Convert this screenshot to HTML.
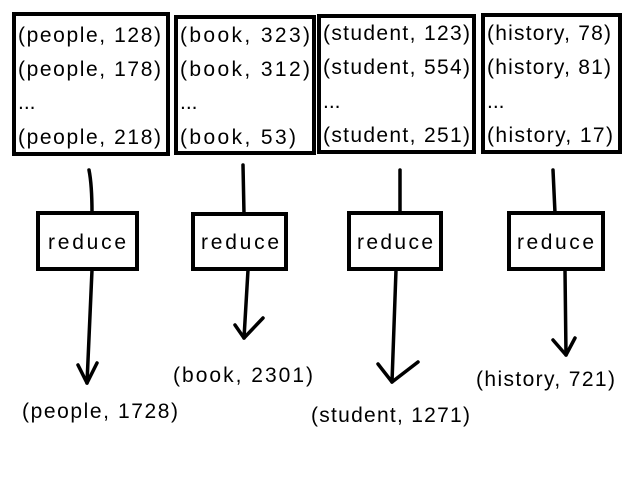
<!DOCTYPE html>
<html><head><meta charset="utf-8"><style>
html,body{margin:0;padding:0;background:#fff;}
svg{display:block}
text{font-family:"Liberation Sans","DejaVu Sans",sans-serif;font-size:21px;fill:#000}
</style></head><body>
<svg width="640" height="480" viewBox="0 0 640 480" xmlns="http://www.w3.org/2000/svg">
<g fill="none" stroke="#000" stroke-width="4">
<rect x="14" y="14" width="154" height="140"/>
<rect x="176" y="17" width="138" height="136"/>
<rect x="319" y="16" width="155" height="136"/>
<rect x="483" y="15" width="137" height="137"/>
<rect x="38" y="213" width="99" height="56"/>
<rect x="193" y="214" width="93" height="55"/>
<rect x="349" y="213" width="92" height="56"/>
<rect x="509" y="213" width="94" height="56"/>
</g>
<g fill="none" stroke="#000" stroke-width="3.5" stroke-linecap="round" stroke-linejoin="round">
<path d="M89 170 Q92 185 92 213"/>
<path d="M92 270 L87 383"/>
<path d="M78 365 L87 383 L97 363"/>
<path d="M243 165 L244 214"/>
<path d="M248 270 L244 338"/>
<path d="M235 325 L244 338 L263 318"/>
<path d="M400 170 L400 213"/>
<path d="M396 270 L392 382"/>
<path d="M378 364 L392 382 L418 362"/>
<path d="M553 170 L555 213"/>
<path d="M565 270 L566 355"/>
<path d="M553 340 L566 355 L575 338"/>
</g>
<g lengthAdjust="spacing">
<text x="18" y="42" textLength="143">(people, 128)</text>
<text x="18" y="76" textLength="143">(people, 178)</text>
<text x="18" y="109">...</text>
<text x="18" y="144" textLength="143">(people, 218)</text>
<text x="180" y="42" textLength="130">(book, 323)</text>
<text x="180" y="76" textLength="130">(book, 312)</text>
<text x="180" y="109">...</text>
<text x="180" y="144" textLength="116">(book, 53)</text>
<text x="323" y="40" textLength="147">(student, 123)</text>
<text x="323" y="74" textLength="147">(student, 554)</text>
<text x="323" y="108">...</text>
<text x="323" y="142" textLength="147">(student, 251)</text>
<text x="487" y="40" textLength="124">(history, 78)</text>
<text x="487" y="74" textLength="124">(history, 81)</text>
<text x="487" y="108">...</text>
<text x="487" y="142" textLength="126">(history, 17)</text>
<text x="48" y="249" textLength="78">reduce</text>
<text x="201" y="249" textLength="78">reduce</text>
<text x="357" y="249" textLength="76">reduce</text>
<text x="517" y="249" textLength="77">reduce</text>
<text x="22" y="418" textLength="156">(people, 1728)</text>
<text x="173" y="382" textLength="140">(book, 2301)</text>
<text x="311" y="422" textLength="159">(student, 1271)</text>
<text x="476" y="386" textLength="139">(history, 721)</text>
</g>
</svg>
</body></html>
